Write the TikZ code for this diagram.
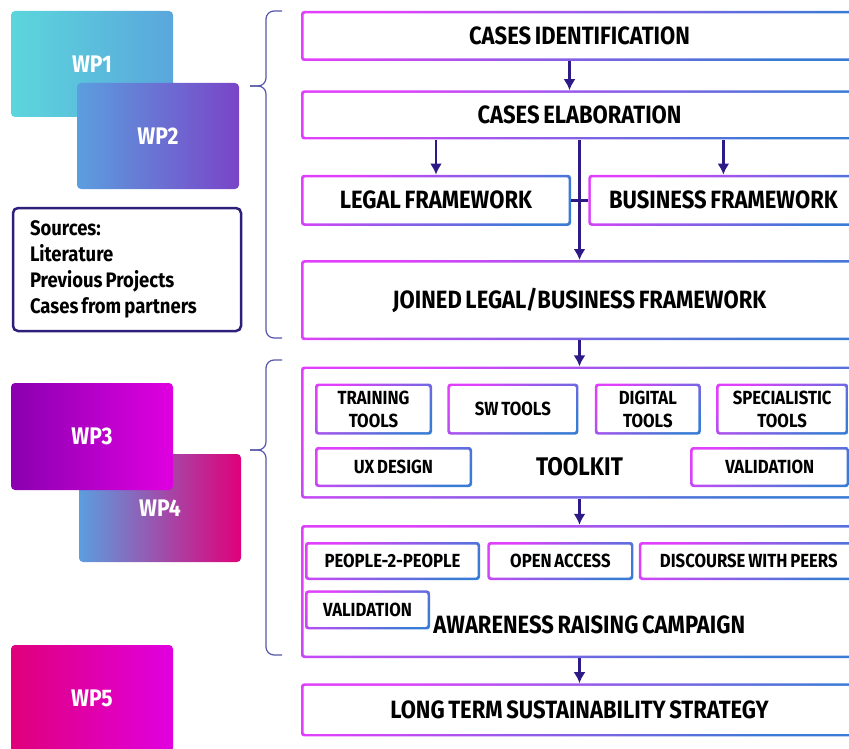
\documentclass[tikz,border=0pt]{standalone}
\usepackage{fontspec}
\setmainfont{Fira Sans}[FakeStretch=0.88, WordSpace=0.7]
\usetikzlibrary{arrows.meta,positioning}

\definecolor{edgepink}{HTML}{E040FB}
\definecolor{edgeblue}{HTML}{3A7BD5}
\definecolor{arrowink}{HTML}{2E1A87}
\definecolor{braceink}{HTML}{5656A8}
\definecolor{srcink}{HTML}{2E1F7A}
\definecolor{cyanA}{HTML}{5CD6DC}
\definecolor{cyanB}{HTML}{5AA6DC}
\definecolor{blueA}{HTML}{5B9EDE}
\definecolor{violetB}{HTML}{7A44C8}
\definecolor{purpleA}{HTML}{8A00B0}
\definecolor{magentaB}{HTML}{E000E0}
\definecolor{roseB}{HTML}{E0007A}

\newcommand\boxlabel{\fontsize{25}{28}\selectfont\bfseries}
\newcommand\tinylabel{\fontsize{19}{23}\selectfont\bfseries}
\newcommand\wplabel{\fontsize{24}{28}\selectfont\bfseries}
\newcommand\srclabel{\fontsize{21}{26}\selectfont\bfseries}
\newcommand\kitlabel{\fontsize{25.5}{30}\selectfont\bfseries}

\tikzset{
  gbox/.style={rounded corners=3pt, inner sep=0pt, align=center,
    path picture={
      \shade[top color=edgepink, bottom color=edgeblue, shading angle=35]
        (path picture bounding box.south west) rectangle (path picture bounding box.north east);
      \fill[white, rounded corners=2pt]
        ([shift={(2.5pt,2.5pt)}]path picture bounding box.south west) rectangle
        ([shift={(-2.5pt,-2.5pt)}]path picture bounding box.north east);}},
  wide/.style={gbox, font=\boxlabel, minimum width=557pt},
  part/.style={gbox, font=\tinylabel},
  wp/.style={rounded corners=4pt, minimum width=162pt, minimum height=106pt,
    text=white, font=\wplabel},
  link/.style={->, draw=arrowink, line width=2.8pt},
  brace/.style={draw=braceink, line width=1.2pt, rounded corners=8pt}
}

\begin{document}
\begin{tikzpicture}[x=1pt,y=-1pt,>={Latex[length=11pt,width=12pt]}]
  \useasboundingbox (0,0) rectangle (849,749);
  \clip (0,0) rectangle (849,749);

  % work packages
  \node[wp, left color=cyanA, right color=cyanB] (wp1) at (92,64) {WP1};
  \node[wp, left color=blueA, right color=violetB] (wp2) at (158,136) {WP2};
  \node[draw=srcink, line width=2.5pt, rounded corners=5pt, minimum width=228pt,
    minimum height=123pt, text width=194pt, align=flush left, font=\srclabel] (src) at (127,269.5)
    {Sources:\\Literature\\Previous Projects\\Cases from partners};
  \node[wp, minimum height=108pt, left color=blueA, middle color=roseB!60!blueA, right color=roseB] (wp4) at (160,508) {WP4};
  \node[wp, minimum height=107pt, left color=purpleA, right color=magentaB] (wp3) at (92,436.5) {WP3};
  \node[wp, minimum height=107pt, left color=roseB, right color=magentaB] (wp5) at (92,698.5) {WP5};

  % braces
  \path[brace] (282,11) -- (266,11) -- (266,86) -- (250,86);
  \path[brace] (250,86) -- (266,86) -- (266,338) -- (282,338);
  \path[brace] (282,360) -- (266,360) -- (266,450) -- (250,450);
  \path[brace] (250,450) -- (266,450) -- (266,655) -- (282,655);

  % main column
  \node[wide, minimum height=50pt] (ident) at (579.5,36) {CASES IDENTIFICATION};
  \node[wide, minimum height=49pt, below=29pt of ident] (elab) {CASES ELABORATION};
  \node[gbox, font=\boxlabel, minimum width=270pt, minimum height=51pt,
    below right=35pt and 0pt of elab.south west] (legal) {LEGAL FRAMEWORK};
  \node[gbox, font=\boxlabel, minimum width=270pt, minimum height=51pt,
    right=17pt of legal] (business) {BUSINESS FRAMEWORK};
  \node[wide, minimum height=80pt, below right=34pt and 0pt of legal.south west] (joined)
    {JOINED LEGAL/BUSINESS FRAMEWORK};
  \node[wide, minimum height=132pt, below=26pt of joined] (toolkit) {};
  \node[wide, minimum height=133pt, below=26pt of toolkit] (aware) {};
  \node[wide, minimum height=53pt, below=25pt of aware] (longterm)
    {LONG TERM SUSTAINABILITY STRATEGY};

  % toolkit parts
  \node[part, minimum width=117pt, minimum height=51pt,
    below right=17pt and 14pt of toolkit.north west] (training) {TRAINING\\TOOLS};
  \node[part, minimum width=131pt, minimum height=51pt, right=15pt of training] (swtools) {SW TOOLS};
  \node[part, minimum width=106pt, minimum height=51pt, right=16pt of swtools] (digital) {DIGITAL\\TOOLS};
  \node[part, minimum width=132pt, minimum height=51pt, right=15pt of digital] (special) {SPECIALISTIC\\TOOLS};
  \node[part, minimum width=157pt, minimum height=40pt,
    below right=12pt and 0pt of training.south west] (uxdesign) {UX DESIGN};
  \node[part, minimum width=159pt, minimum height=40pt,
    below left=12pt and -1pt of special.south east] (kitcheck) {VALIDATION};
  \node[font=\kitlabel] (kitname) at (toolkit.center |- uxdesign.center) {TOOLKIT};

  % campaign parts
  \node[part, minimum width=175pt, minimum height=38pt,
    below right=17pt and 4pt of aware.north west] (p2p) {PEOPLE-2-PEOPLE};
  \node[part, minimum width=146pt, minimum height=38pt, right=7pt of p2p] (openacc) {OPEN ACCESS};
  \node[part, minimum width=220pt, minimum height=38pt, right=5pt of openacc] (peers) {DISCOURSE WITH PEERS};
  \node[part, minimum width=125pt, minimum height=39pt,
    below right=10pt and 0pt of p2p.south west] (campcheck) {VALIDATION};
  \node[font=\boxlabel, anchor=west, inner sep=0pt] (campname)
    at ([shift={(3pt,-14.5pt)}]campcheck.east) {AWARENESS RAISING CAMPAIGN};

  % arrows
  \draw[link] ([xshift=-10pt]ident.south) -- ([xshift=-10pt]elab.north);
  \draw[link] (legal.north |- elab.south) -- (legal.north);
  \draw[link] (business.north |- elab.south) -- (business.north);
  \draw[link] (elab.south) -- (joined.north);
  \draw[draw=arrowink, line width=2.8pt] (legal.east) -- (business.west);
  \draw[link] (joined.south) -- (toolkit.north);
  \draw[link] (toolkit.south) -- (aware.north);
  \draw[link] (aware.south) -- (longterm.north);
\end{tikzpicture}
\end{document}
